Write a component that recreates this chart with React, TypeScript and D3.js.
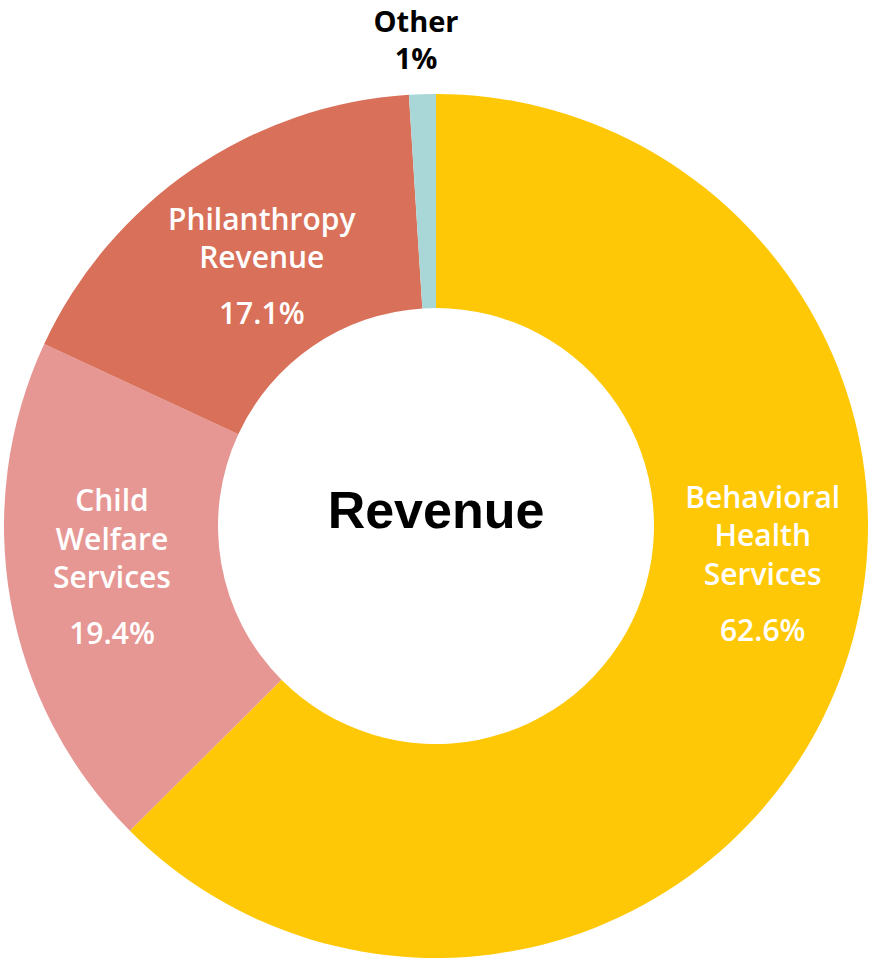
import React, { useEffect, useRef } from 'react';
import * as d3 from 'd3';

const categories = ['Behavioral Health Services', 'Child Welfare Services', 'Philanthropy Revenue', 'Other'];
const values = [62.6, 19.4, 17.1, 1];
const colors = ['#FFC806', '#E69794', '#D9705A', '#A9D7D7'];
// label lines per slice
const labelLines = [
  ['Behavioral', 'Health', 'Services'],
  ['Child', 'Welfare', 'Services'],
  ['Philanthropy', 'Revenue'],
  ['Other'],
];
const pctLabels = ['62.6%', '19.4%', '17.1%', '1%'];

const App: React.FC = () => {
  const svgRef = useRef<SVGSVGElement>(null);

  useEffect(() => {
    const width = 870;
    const height = 958;
    const cx = 436;
    const cy = 526;
    const outer = 432;
    const inner = 218;

    const svg = d3.select(svgRef.current);
    svg.selectAll('*').remove();

    const g = svg.append('g').attr('transform', `translate(${cx},${cy})`);

    const data = categories.map((c, i) => ({ name: c, value: values[i], i }));
    const pie = d3.pie<any>().sort(null).value(d => d.value);
    const arc = d3.arc<any>().innerRadius(inner).outerRadius(outer);
    const arcs = pie(data);

    g.selectAll('path.slice')
      .data(arcs)
      .enter().append('path')
      .attr('class', 'slice')
      .attr('d', arc)
      .attr('fill', d => colors[d.data.i]);

    // label anchors: centroid at a chosen radius, nudged to where the reference puts them
    const labelRadius = [330, 330, 300, 470];
    const nudge = [[22, -90], [1, -17], [-5, -13], [0, 0]];
    const lineH = 38.5;
    const font = '"Open Sans", sans-serif';

    arcs.forEach((a, k) => {
      const mid = (a.startAngle + a.endAngle) / 2;
      const r = labelRadius[k];
      let x = Math.sin(mid) * r + nudge[k][0];
      let y = -Math.cos(mid) * r + nudge[k][1];
      const lines = labelLines[k];
      const isOther = k === 3;
      const fill = isOther ? '#000' : '#fff';
      const t = g.append('g');
      if (isOther) {
        x = -20;
        y = -526 + 20;
        lines.concat([pctLabels[k]]).forEach((l, j) => {
          t.append('text').attr('x', x).attr('y', y + j * 37)
            .attr('text-anchor', 'middle').attr('dominant-baseline', 'central')
            .style('font-family', font).style('font-weight', 700)
            .style('font-size', '29px').attr('fill', fill).text(l);
        });
        return;
      }
      const total = (lines.length - 1) * lineH + 56;
      const y0 = y - total / 2;
      lines.forEach((l, j) => {
        t.append('text').attr('x', x).attr('y', y0 + j * lineH)
          .attr('text-anchor', 'middle').attr('dominant-baseline', 'central')
          .style('font-family', font).style('font-weight', 600)
          .style('font-size', '30px').attr('fill', fill).text(l);
      });
      t.append('text').attr('x', x).attr('y', y0 + (lines.length - 1) * lineH + 56)
        .attr('text-anchor', 'middle').attr('dominant-baseline', 'central')
        .style('font-family', font).style('font-weight', 600)
        .style('font-size', '30px').attr('fill', fill).text(pctLabels[k]);
    });

    g.append('text')
      .attr('x', 0).attr('y', -16)
      .attr('text-anchor', 'middle').attr('dominant-baseline', 'central')
      .style('font-family', '"Liberation Sans", Arial, sans-serif').style('font-weight', 700)
      .style('font-size', '52px').attr('fill', '#000')
      .text('Revenue');

    svg.attr('width', width).attr('height', height);
  }, []);

  return (
    <svg ref={svgRef} width={870} height={958}
      style={{ position: 'absolute', left: 0, top: 0, background: '#fff' }} />
  );
};

export default App;
